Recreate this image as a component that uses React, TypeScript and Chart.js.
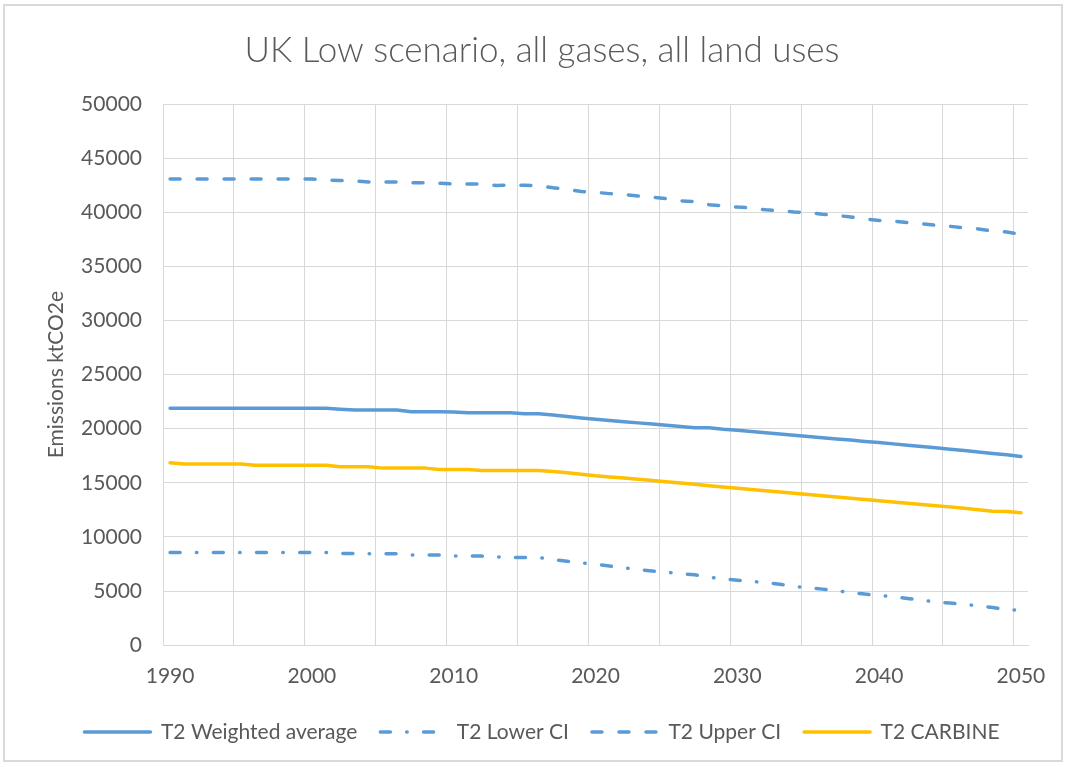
import React, { useEffect, useRef } from 'react';
import { Chart, registerables } from 'chart.js';

Chart.register(...registerables);

const title = 'UK Low scenario, all gases, all land uses';
const yAxisTitle = 'Emissions ktCO2e';

const years = [
  '1990', '1991', '1992', '1993', '1994', '1995', '1996', '1997', '1998', '1999',
  '2000', '2001', '2002', '2003', '2004', '2005', '2006', '2007', '2008', '2009',
  '2010', '2011', '2012', '2013', '2014', '2015', '2016', '2017', '2018', '2019',
  '2020', '2021', '2022', '2023', '2024', '2025', '2026', '2027', '2028', '2029',
  '2030', '2031', '2032', '2033', '2034', '2035', '2036', '2037', '2038', '2039',
  '2040', '2041', '2042', '2043', '2044', '2045', '2046', '2047', '2048', '2049',
  '2050',
];

const xTickLabels = ['1990', '2000', '2010', '2020', '2030', '2040', '2050'];

const weightedAverage = [
  21880, 21880, 21880, 21880, 21880, 21880, 21880, 21880, 21880, 21880,
  21880, 21880, 21800, 21720, 21720, 21720, 21720, 21570, 21570, 21570,
  21540, 21470, 21470, 21470, 21470, 21380, 21380, 21260, 21130, 21000,
  20880, 20770, 20650, 20540, 20440, 20330, 20210, 20100, 20080, 19950,
  19850, 19740, 19630, 19520, 19400, 19290, 19170, 19060, 18950, 18830,
  18720, 18600, 18480, 18360, 18240, 18110, 17980, 17850, 17720, 17590,
  17440,
];

const lowerCI = [
  8560, 8560, 8560, 8560, 8560, 8560, 8560, 8560, 8560, 8560,
  8560, 8560, 8470, 8470, 8440, 8440, 8440, 8330, 8330, 8330,
  8230, 8230, 8230, 8170, 8100, 8100, 8100, 7920, 7760, 7600,
  7470, 7320, 7150, 6990, 6860, 6740, 6620, 6500, 6290, 6120,
  6000, 5900, 5770, 5640, 5420, 5330, 5180, 5030, 4880, 4720,
  4600, 4460, 4320, 4180, 3990, 3890, 3770, 3640, 3490, 3310,
  3210,
];

const upperCI = [
  43070, 43070, 43070, 43070, 43070, 43070, 43070, 43070, 43070, 43070,
  43070, 42980, 42930, 42880, 42800, 42800, 42790, 42730, 42730, 42680,
  42600, 42610, 42600, 42480, 42510, 42500, 42430, 42260, 42120, 41920,
  41840, 41720, 41640, 41500, 41400, 41260, 41050, 40990, 40700, 40600,
  40480, 40390, 40220, 40140, 40020, 39960, 39820, 39710, 39560, 39380,
  39240, 39180, 39040, 38940, 38800, 38700, 38560, 38460, 38280, 38170,
  37960,
];

const carbine = [
  16850, 16730, 16750, 16750, 16750, 16750, 16630, 16630, 16630, 16630,
  16630, 16630, 16480, 16480, 16480, 16360, 16360, 16360, 16360, 16240,
  16240, 16240, 16150, 16150, 16150, 16150, 16150, 16050, 15930, 15800,
  15660, 15550, 15440, 15330, 15220, 15110, 14980, 14860, 14740, 14620,
  14500, 14390, 14270, 14160, 14040, 13920, 13800, 13690, 13570, 13460,
  13340, 13230, 13110, 13000, 12890, 12780, 12650, 12520, 12380, 12350,
  12230,
];

const seriesNames = ['T2 Weighted average', 'T2 Lower CI', 'T2 Upper CI', 'T2 CARBINE'];

const BLUE = '#5B9BD5';
const GOLD = '#FFC000';
const TEXT = '#595959';
const GRID = '#D9D9D9';
const FONT = 'Lato, "Open Sans", sans-serif';

export default function App() {
  const canvasRef = useRef<HTMLCanvasElement | null>(null);

  useEffect(() => {
    document.body.style.margin = '0';
    const canvas = canvasRef.current;
    if (!canvas) return;

    const lineBase = {
      pointRadius: 0,
      pointHoverRadius: 0,
      borderWidth: 3.5,
      tension: 0,
      fill: false,
      borderCapStyle: 'round' as const,
      borderJoinStyle: 'round' as const,
    };

    const chart = new Chart(canvas, {
      type: 'line',
      data: {
        labels: years,
        datasets: [
          { ...lineBase, label: seriesNames[0], data: weightedAverage, borderColor: BLUE, backgroundColor: BLUE, borderDash: [] },
          { ...lineBase, label: seriesNames[1], data: lowerCI, borderColor: BLUE, backgroundColor: BLUE, borderDash: [10, 16.3, 0.5, 16.4] },
          { ...lineBase, label: seriesNames[2], data: upperCI, borderColor: BLUE, backgroundColor: BLUE, borderDash: [10, 17] },
          { ...lineBase, label: seriesNames[3], data: carbine, borderColor: GOLD, backgroundColor: GOLD, borderDash: [] },
        ],
      },
      options: {
        responsive: true,
        maintainAspectRatio: false,
        animation: false,
        events: [],
        layout: { padding: { left: 56, right: 39, top: 30, bottom: 14.6 } },
        plugins: {
          tooltip: { enabled: false },
          title: {
            display: true,
            text: title,
            color: TEXT,
            font: { family: FONT, size: 35, weight: '300', lineHeight: 1.2 },
            padding: { top: 0, bottom: 32 },
          },
          legend: {
            display: true,
            position: 'bottom',
            labels: {
              color: TEXT,
              font: { family: FONT, size: 21, lineHeight: 1.2 },
              usePointStyle: true,
              pointStyle: 'line',
              pointStyleWidth: 66,
              padding: 23,
              generateLabels: (ch: any) =>
                ch.data.datasets.map((ds: any, i: number) => ({
                  text: ds.label,
                  fillStyle: ds.borderColor,
                  strokeStyle: ds.borderColor,
                  lineWidth: ds.borderWidth,
                  lineDash: ds.borderDash || [],
                  lineCap: 'round',
                  pointStyle: 'line',
                  fontColor: TEXT,
                  hidden: false,
                  datasetIndex: i,
                })),
            },
          },
        },
        scales: {
          x: {
            type: 'category',
            offset: true,
            afterFit: (scale: any) => {
              scale.height = 53.2;
            },
            grid: {
              display: true,
              offset: true,
              drawTicks: false,
              lineWidth: 1,
              color: (ctx: any) =>
                ctx.index !== undefined && ctx.index % 5 === 0 ? GRID : 'rgba(0,0,0,0)',
            },
            border: { display: true, color: GRID, width: 1 },
            ticks: {
              autoSkip: false,
              maxRotation: 0,
              minRotation: 0,
              padding: 18,
              color: TEXT,
              font: { family: FONT, size: 21, lineHeight: 1.2 },
              callback: (_v: any, idx: number) =>
                xTickLabels.includes(years[idx]) ? years[idx] : '',
            },
          },
          y: {
            type: 'linear',
            min: 0,
            max: 50000,
            afterFit: (scale: any) => {
              scale.width = 107;
            },
            grid: { display: true, drawTicks: false, color: GRID, lineWidth: 1 },
            border: { display: false },
            ticks: {
              stepSize: 5000,
              padding: 21,
              color: TEXT,
              font: { family: FONT, size: 21, lineHeight: 1.2 },
              callback: (v: any) => String(v),
            },
            title: {
              display: true,
              text: yAxisTitle,
              color: TEXT,
              font: { family: FONT, size: 21, lineHeight: 1.2 },
              padding: { top: -12.6, bottom: 0 },
            },
          },
        },
      },
    });

    return () => chart.destroy();
  }, []);

  return (
    <div style={{ position: 'relative', width: 1067, height: 767, background: '#fff' }}>
      <canvas ref={canvasRef} />
      <div
        style={{
          position: 'absolute',
          left: 3,
          top: 4,
          width: 1056,
          height: 754,
          border: '2px solid #D9D9D9',
          pointerEvents: 'none',
        }}
      />
    </div>
  );
}
